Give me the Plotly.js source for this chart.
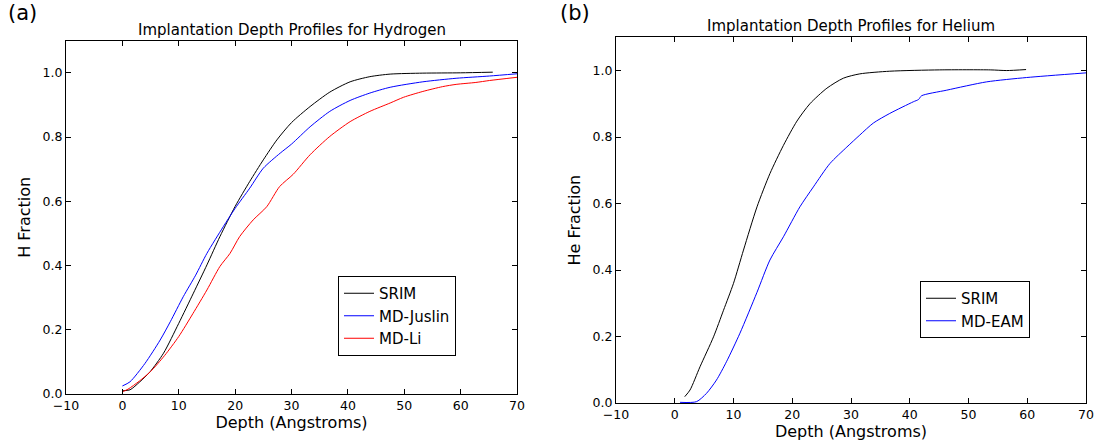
<!DOCTYPE html>
<html>
<head>
<meta charset="utf-8">
<script src="https://cdn.plot.ly/plotly-3.0.1.min.js"></script>
<style>html,body{margin:0;padding:0;background:#fff;}#chart{width:1098px;height:444px;}</style>
</head>
<body>
<div id="chart"></div>
<script>
// Panel (a): Hydrogen
const hSrimX = [0, 1.35, 3.1, 4.9, 7.3, 10, 12.6, 15, 17.3, 20, 22.6, 25, 27.4, 30, 33.3, 36.8, 40.4, 43.9, 47.5, 53.3, 60, 65.7];
const hSrimY = [0.01, 0.013, 0.038, 0.069, 0.127, 0.22, 0.314, 0.402, 0.49, 0.584, 0.662, 0.729, 0.791, 0.845, 0.895, 0.94, 0.972, 0.988, 0.996, 0.999, 1.0, 1.002];
const hJuslinX = [0, 1.35, 4, 6.7, 8.5, 10.8, 13, 15, 17.9, 20, 22.6, 25, 28, 30, 33.3, 36.8, 40.4, 43.9, 47.5, 53.3, 59.2, 65.1, 70];
const hJuslinY = [0.025, 0.038, 0.095, 0.168, 0.225, 0.303, 0.37, 0.438, 0.521, 0.578, 0.641, 0.703, 0.75, 0.778, 0.832, 0.88, 0.914, 0.937, 0.955, 0.972, 0.983, 0.99, 0.997];
const hLiX = [0, 1, 3, 5, 7.5, 10, 12.5, 15, 17.3, 19.1, 20.8, 23.2, 25.6, 27.9, 30.3, 33.3, 36.8, 40.4, 43.9, 47.5, 49.9, 53.3, 56.8, 59.2, 62.7, 65.1, 70];
const hLiY = [0.007, 0.015, 0.04, 0.07, 0.12, 0.179, 0.25, 0.324, 0.397, 0.438, 0.49, 0.542, 0.583, 0.646, 0.684, 0.745, 0.802, 0.848, 0.88, 0.906, 0.924, 0.942, 0.957, 0.964, 0.97, 0.976, 0.986];

// Panel (b): Helium
const heSrimX = [1.7, 2.6, 4.3, 6.6, 8.3, 10, 11.7, 14, 16.2, 18.5, 20.8, 23, 25.9, 28.7, 31.5, 36.6, 45.1, 53.7, 56.5, 59.8];
const heSrimY = [0.019, 0.039, 0.109, 0.199, 0.279, 0.36, 0.46, 0.59, 0.69, 0.775, 0.848, 0.9, 0.947, 0.977, 0.99, 0.998, 1.002, 1.002, 1.0, 1.003];
const heEamX = [0.9, 3.7, 5.4, 7.1, 8.8, 11.1, 14, 16.2, 18.5, 21.3, 23.6, 26.4, 29.3, 31.5, 33.8, 36.6, 40.6, 41.5, 42, 46.3, 53.1, 59.9, 70];
const heEamY = [0.002, 0.004, 0.029, 0.069, 0.124, 0.21, 0.333, 0.43, 0.5, 0.59, 0.65, 0.72, 0.77, 0.806, 0.842, 0.871, 0.906, 0.913, 0.924, 0.941, 0.966, 0.979, 0.993];

const xTicks = [-10, 0, 10, 20, 30, 40, 50, 60, 70];
const yTicks = [0.0, 0.2, 0.4, 0.6, 0.8, 1.0];
const yTickText = ["0.0", "0.2", "0.4", "0.6", "0.8", "1.0"];

const FONT = "DejaVu Sans, sans-serif";

function ln(color) { return {color: color, width: 1, shape: "spline", smoothing: 0.7}; }

const traces = [
  {x: hSrimX, y: hSrimY, name: "SRIM", mode: "lines", line: ln("#000000"), xaxis: "x", yaxis: "y", legend: "legend"},
  {x: hJuslinX, y: hJuslinY, name: "MD-Juslin", mode: "lines", line: ln("#0000ff"), xaxis: "x", yaxis: "y", legend: "legend"},
  {x: hLiX, y: hLiY, name: "MD-Li", mode: "lines", line: ln("#ff0000"), xaxis: "x", yaxis: "y", legend: "legend"},
  {x: heSrimX, y: heSrimY, name: "SRIM", mode: "lines", line: ln("#000000"), xaxis: "x2", yaxis: "y2", legend: "legend2"},
  {x: heEamX, y: heEamY, name: "MD-EAM", mode: "lines", line: ln("#0000ff"), xaxis: "x2", yaxis: "y2", legend: "legend2"}
];

function xax(domain, anchor) {
  return {
    domain: domain, anchor: anchor, range: [-10, 70], tickvals: xTicks, ticktext: xTicks.map(v => v < 0 ? "\u2212" + Math.abs(v) : String(v)),
    ticks: "inside", ticklen: 5, tickcolor: "#000", tickwidth: 1,
    showline: true, linecolor: "#000", linewidth: 1, mirror: "ticks",
    showgrid: false, zeroline: false,
    tickfont: {family: FONT, size: 12.5, color: "#000"},
    title: {text: "Depth (Angstroms)", font: {family: FONT, size: 16, color: "#000"}, standoff: 2}
  };
}
function yax(domain, anchor, title) {
  return {
    domain: domain, anchor: anchor, range: [0, 1.1], tickvals: yTicks, ticktext: yTickText,
    ticks: "inside", ticklen: 5, tickcolor: "#000", tickwidth: 1,
    showline: true, linecolor: "#000", linewidth: 1, mirror: "ticks",
    showgrid: false, zeroline: false,
    tickfont: {family: FONT, size: 12.5, color: "#000"},
    title: {text: title, font: {family: FONT, size: 16, color: "#000"}, standoff: 8}
  };
}

const layout = {
  width: 1098, height: 444,
  margin: {l: 0, r: 0, t: 0, b: 0},
  paper_bgcolor: "#fff", plot_bgcolor: "#fff",
  font: {family: FONT, color: "#000"},
  xaxis: xax([66/1098, 517/1098], "y"),
  yaxis: yax([1 - 394/444, 1 - 40.7/444], "x", "H Fraction"),
  xaxis2: xax([616/1098, 1086/1098], "y2"),
  yaxis2: yax([1 - 403/444, 1 - 37.3/444], "x2", "He Fraction"),
  legend: {x: 338/1098, y: 1 - 276/444, xanchor: "left", yanchor: "top", bordercolor: "#000", borderwidth: 1, bgcolor: "#fff", font: {family: FONT, size: 15, color: "#000"}},
  legend2: {x: 920/1098, y: 1 - 281/444, xanchor: "left", yanchor: "top", bordercolor: "#000", borderwidth: 1, bgcolor: "#fff", font: {family: FONT, size: 15, color: "#000"}},
  annotations: [
    {text: "Implantation Depth Profiles for Hydrogen", xref: "paper", yref: "paper", x: 291.5/1098, y: 1 - 30/444, xanchor: "center", yanchor: "middle", showarrow: false, font: {family: FONT, size: 15, color: "#000"}},
    {text: "Implantation Depth Profiles for Helium", xref: "paper", yref: "paper", x: 851/1098, y: 1 - 26/444, xanchor: "center", yanchor: "middle", showarrow: false, font: {family: FONT, size: 15, color: "#000"}},
    {text: "(a)", xref: "paper", yref: "paper", x: 6/1098, y: 1 - 13/444, xanchor: "left", yanchor: "middle", showarrow: false, font: {family: FONT, size: 21, color: "#000"}},
    {text: "(b)", xref: "paper", yref: "paper", x: 558/1098, y: 1 - 13/444, xanchor: "left", yanchor: "middle", showarrow: false, font: {family: FONT, size: 21, color: "#000"}}
  ]
};

Plotly.newPlot("chart", traces, layout, {displayModeBar: false, staticPlot: true});
</script>
</body>
</html>
